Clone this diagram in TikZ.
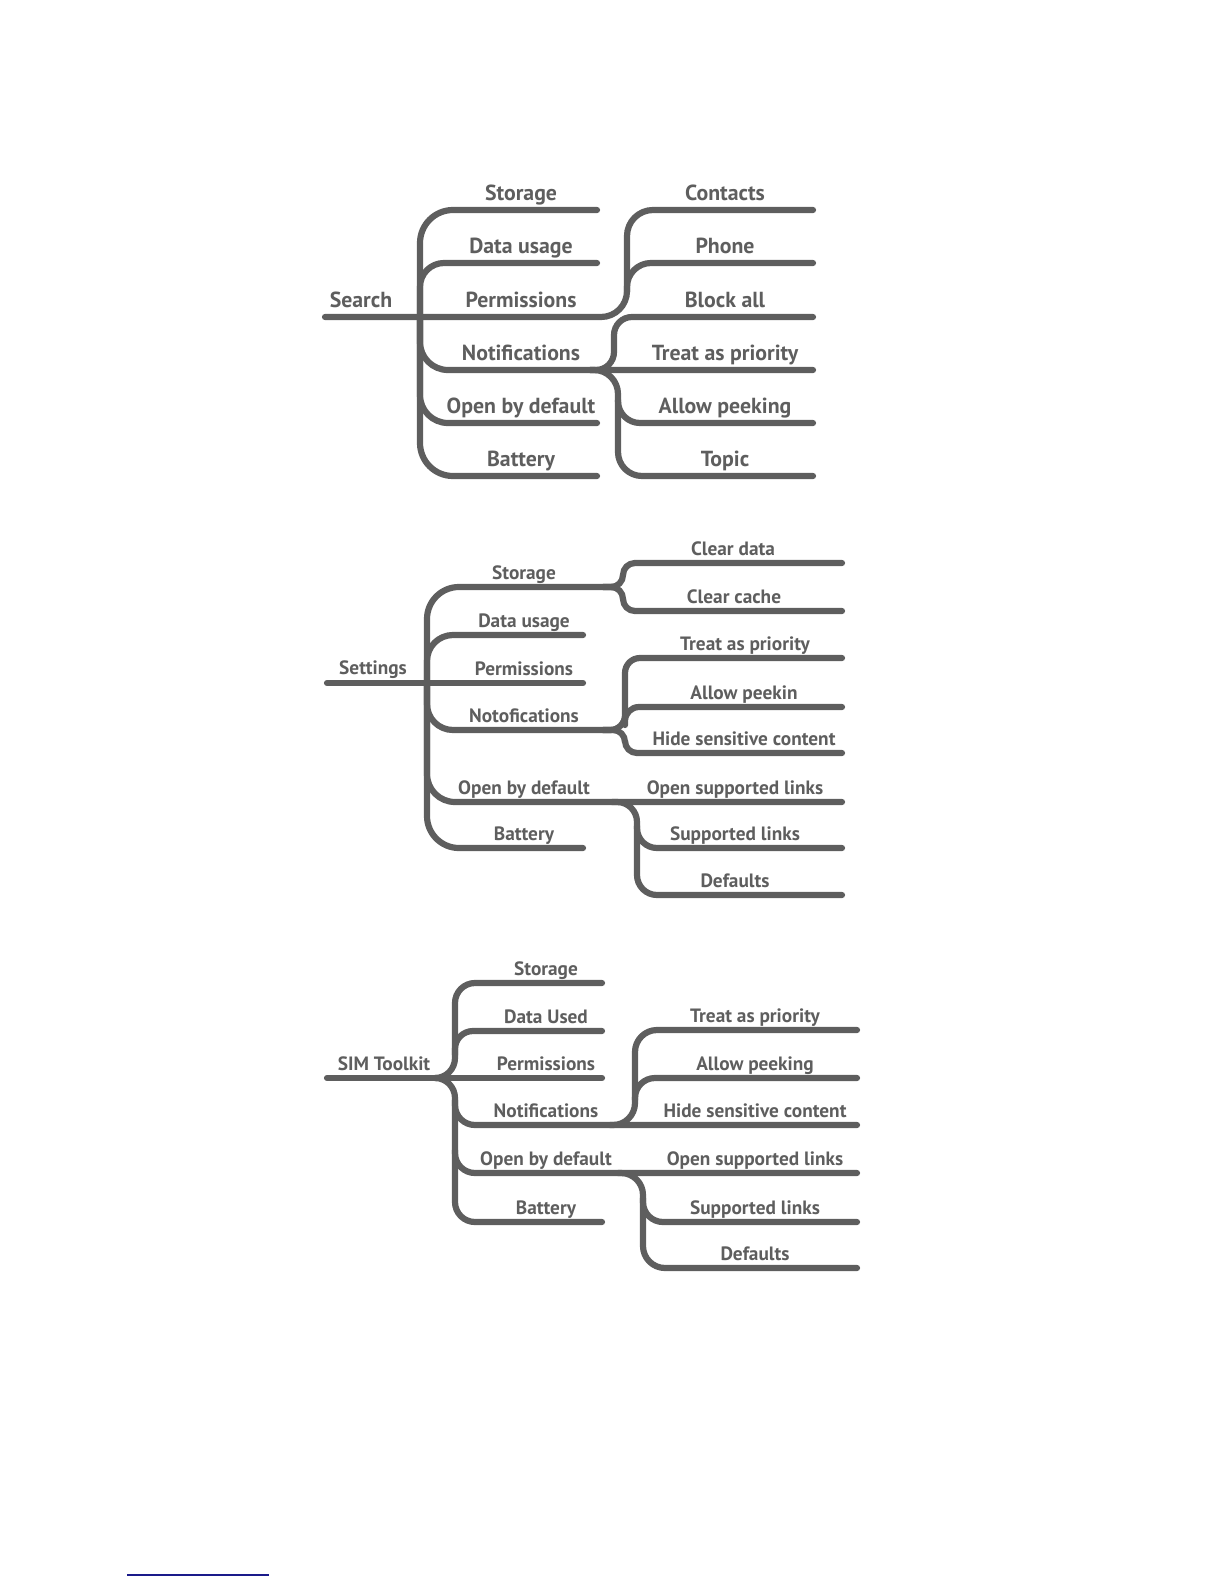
\documentclass[tikz,border=0pt]{standalone}
\usepackage{fontspec}
\setmainfont{PT Sans}
\definecolor{mapgray}{HTML}{5E5E5E}
\definecolor{rulenavy}{HTML}{1A1A8A}
\tikzset{
  br/.style={draw=mapgray, line width=6.2pt, line cap=round, line join=round},
  lblbig/.style={text=mapgray, font=\bfseries\fontsize{21.8}{26}\selectfont, anchor=base, inner sep=0pt},
  lblsmall/.style={text=mapgray, font=\bfseries\fontsize{19.3}{23}\selectfont, anchor=base, inner sep=0pt},
}
\begin{document}
\begin{tikzpicture}[x=1pt,y=-1pt]
\useasboundingbox (0,0) rectangle (1224,1584);

% ================= Search =================
\coordinate (sRoot) at (325,317);
\coordinate (sL1) at (597,210);
\coordinate (sL2) at (597,263);
\coordinate (sL5) at (597,423);
\coordinate (sL6) at (597,476);
\coordinate (sR1) at (813,210);
\coordinate (sR2) at (813,263);
\coordinate (sR3) at (813,317);
\coordinate (sR4) at (813,370);
\coordinate (sR5) at (813,423);
\coordinate (sR6) at (813,476);

\draw[br, rounded corners=33] (sL1) -- (420,210) -- (420,476) -- (sL6);
\draw[br, rounded corners=26] (sRoot) -- (627,317) -- (627,210) -- (sR1);
\draw[br, rounded corners=24] (420,317) -- (420,263) -- (sL2);
\draw[br, rounded corners=28] (420,317) -- (420,370) -- (sR4);
\draw[br, rounded corners=28] (420,317) -- (420,423) -- (sL5);
\draw[br, rounded corners=24] (627,292) -- (627,263) -- (sR2);
\draw[br, rounded corners=18] (590,370) -- (614,370) -- (614,317) -- (sR3);
\draw[br, rounded corners=24] (590,370) -- (618,370) -- (618,476) -- (sR6);
\draw[br, rounded corners=22] (618,400) -- (618,423) -- (sR5);

\node[lblbig] (sSearch) at (361,307) {Search};
\node[lblbig] (sStorage) at (521,200) {Storage};
\node[lblbig] (sData) at (521,253) {Data usage};
\node[lblbig] (sPerm) at (521,307) {Permissions};
\node[lblbig] (sNotif) at (521,360) {Notifications};
\node[lblbig] (sOpen) at (521,413) {Open by default};
\node[lblbig] (sBatt) at (521,466) {Battery};
\node[lblbig] (sContacts) at (725,200) {Contacts};
\node[lblbig] (sPhone) at (725,253) {Phone};
\node[lblbig] (sBlock) at (725,307) {Block all};
\node[lblbig] (sTreat) at (725,360) {Treat as priority};
\node[lblbig] (sAllow) at (725,413) {Allow peeking};
\node[lblbig] (sTopic) at (725,466) {Topic};

% ================= Settings =================
\coordinate (tRoot) at (327,683);
\coordinate (tL2) at (583,635);
\coordinate (tL3) at (583,683);
\coordinate (tL6) at (583,848);
\coordinate (tR1) at (842,563);
\coordinate (tR2) at (842,611);
\coordinate (tR3) at (842,658);
\coordinate (tR4) at (842,707);
\coordinate (tR5) at (842,753);
\coordinate (tR6) at (842,802);
\coordinate (tR7) at (842,848);
\coordinate (tR8) at (842,895);

\draw[br, rounded corners=32] (613,587) -- (427,587) -- (427,848) -- (tL6);
\draw[br] (tRoot) -- (tL3);
\draw[br, rounded corners=26] (427,683) -- (427,635) -- (tL2);
\draw[br, rounded corners=26] (427,683) -- (427,730) -- (612,730);
\draw[br, rounded corners=28] (427,683) -- (427,802) -- (tR6);
\draw[br, rounded corners=12] (603,587) -- (623,587) -- (623,563) -- (tR1);
\draw[br, rounded corners=12] (603,587) -- (623,587) -- (623,611) -- (tR2);
\draw[br, rounded corners=15] (603,730) -- (625,730) -- (625,658) -- (tR3);
\draw[br, rounded corners=12] (603,730) -- (625,730) -- (625,753) -- (tR5);
\draw[br, rounded corners=14] (625,725) -- (625,707) -- (tR4);
\draw[br, rounded corners=20] (612,802) -- (637,802) -- (637,895) -- (tR8);
\draw[br, rounded corners=20] (637,826) -- (637,848) -- (tR7);

\node[lblsmall] (tSettings) at (373,674) {Settings};
\node[lblsmall] (tStorage) at (524,579) {Storage};
\node[lblsmall] (tData) at (524,627) {Data usage};
\node[lblsmall] (tPerm) at (524,675) {Permissions};
\node[lblsmall] (tNotof) at (524,722) {Notofications};
\node[lblsmall] (tOpen) at (524,794) {Open by default};
\node[lblsmall] (tBatt) at (524,840) {Battery};
\node[lblsmall] (tClearD) at (733,555) {Clear data};
\node[lblsmall] (tClearC) at (734,603) {Clear cache};
\node[lblsmall] (tTreat) at (745,650) {Treat as priority};
\node[lblsmall] (tAllow) at (744,699) {Allow peekin};
\node[lblsmall] (tHide) at (744,745) {Hide sensitive content};
\node[lblsmall] (tOSL) at (735,794) {Open supported links};
\node[lblsmall] (tSL) at (735,840) {Supported links};
\node[lblsmall] (tDef) at (735,887) {Defaults};

% ================= SIM Toolkit =================
\coordinate (mRoot) at (327,1078);
\coordinate (mL1) at (602,983);
\coordinate (mL2) at (602,1031);
\coordinate (mL3) at (602,1078);
\coordinate (mL6) at (602,1222);
\coordinate (mR1) at (857,1030);
\coordinate (mR2) at (857,1078);
\coordinate (mR3) at (857,1125);
\coordinate (mR4) at (857,1173);
\coordinate (mR5) at (857,1222);
\coordinate (mR6) at (857,1268);

\draw[br] (mRoot) -- (mL3);
\draw[br, rounded corners=20] (435,1078) -- (455,1078) -- (455,983) -- (mL1);
\draw[br, rounded corners=20] (435,1078) -- (455,1078) -- (455,1222) -- (mL6);
\draw[br, rounded corners=18] (455,1055) -- (455,1031) -- (mL2);
\draw[br, rounded corners=20] (455,1100) -- (455,1125) -- (mR3);
\draw[br, rounded corners=20] (455,1150) -- (455,1173) -- (mR4);
\draw[br, rounded corners=22] (610,1125) -- (635,1125) -- (635,1030) -- (mR1);
\draw[br, rounded corners=20] (635,1100) -- (635,1078) -- (mR2);
\draw[br, rounded corners=22] (618,1173) -- (643,1173) -- (643,1268) -- (mR6);
\draw[br, rounded corners=20] (643,1198) -- (643,1222) -- (mR5);

\node[lblsmall] (mSIM) at (384,1070) {SIM Toolkit};
\node[lblsmall] (mStorage) at (546,975) {Storage};
\node[lblsmall] (mData) at (546,1023) {Data Used};
\node[lblsmall] (mPerm) at (546,1070) {Permissions};
\node[lblsmall] (mNotif) at (546,1117) {Notifications};
\node[lblsmall] (mOpen) at (546,1165) {Open by default};
\node[lblsmall] (mBatt) at (546,1214) {Battery};
\node[lblsmall] (mTreat) at (755,1022) {Treat as priority};
\node[lblsmall] (mAllow) at (755,1070) {Allow peeking};
\node[lblsmall] (mHide) at (755,1117) {Hide sensitive content};
\node[lblsmall] (mOSL) at (755,1165) {Open supported links};
\node[lblsmall] (mSL) at (755,1214) {Supported links};
\node[lblsmall] (mDef) at (755,1260) {Defaults};

% ================= footnote rule =================
\coordinate (fnA) at (127,1575);
\coordinate (fnB) at (269,1575);
\draw[rulenavy, line width=1.6pt] (fnA) -- (fnB);
\end{tikzpicture}
\end{document}
